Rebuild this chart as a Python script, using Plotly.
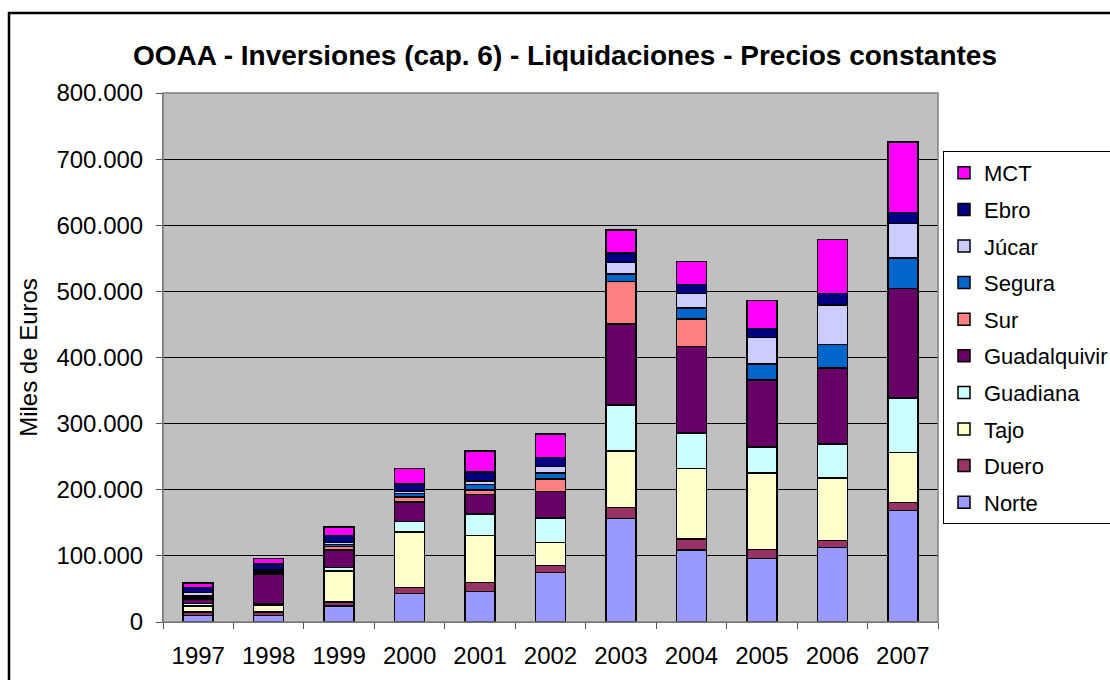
import plotly.graph_objects as go

# Miles de euros
years = ["1997", "1998", "1999", "2000", "2001", "2002", "2003", "2004", "2005", "2006", "2007"]

norte = [9500, 9500, 24000, 43000, 46000, 74500, 156500, 109000, 96000, 113000, 169000]
duero = [6000, 5500, 6000, 9000, 13500, 11000, 17000, 16500, 14000, 10000, 11500]
tajo = [8500, 10500, 47500, 84000, 71500, 35000, 85000, 107000, 115000, 94500, 76000]
guadiana = [4000, 2500, 5000, 16000, 32000, 36500, 69500, 53500, 40000, 52000, 82000]
guadalquivir = [6500, 44000, 26500, 29500, 29500, 40500, 123000, 131000, 101000, 115000, 166000]
sur = [2500, 2000, 5000, 7500, 7000, 18500, 64000, 41500, 0, 0, 0]
segura = [2500, 3000, 3000, 5500, 8500, 9000, 11000, 16500, 24000, 35000, 46000]
jucar = [5000, 2000, 3000, 2500, 5000, 10000, 18000, 22000, 40000, 60000, 52000]
ebro = [7500, 8500, 10500, 11500, 13500, 13500, 14000, 13500, 13500, 17000, 16500]
mct = [7000, 8500, 13500, 23500, 32000, 35500, 34500, 35000, 43000, 82000, 107000]

series = [
    ("Norte", norte, "#9999FF"),
    ("Duero", duero, "#993366"),
    ("Tajo", tajo, "#FFFFCC"),
    ("Guadiana", guadiana, "#CCFFFF"),
    ("Guadalquivir", guadalquivir, "#660066"),
    ("Sur", sur, "#FF8080"),
    ("Segura", segura, "#0066CC"),
    ("Júcar", jucar, "#CCCCFF"),
    ("Ebro", ebro, "#000080"),
    ("MCT", mct, "#FF00FF"),
]

y_ticks = [0, 100000, 200000, 300000, 400000, 500000, 600000, 700000, 800000]

FONT = "Arial, Liberation Sans, sans-serif"

fig = go.Figure()
for i, (name, values, color) in enumerate(series):
    fig.add_trace(go.Bar(
        x=years,
        y=values,
        name=name,
        legendgroup=name,
        legendrank=len(series) - i,  # top of the stack first in the legend
        marker=dict(color=color, line=dict(color="black", width=1.5)),
    ))

fig.update_layout(
    width=1110,
    height=680,
    barmode="stack",
    bargap=0.574,
    separators=",.",
    paper_bgcolor="white",
    plot_bgcolor="#C0C0C0",
    margin=dict(l=163, r=172, t=93, b=58, autoexpand=False),
    font=dict(family=FONT, size=24, color="black"),
    title=dict(
        text="<b>OOAA - Inversiones (cap. 6) - Liquidaciones - Precios constantes</b>",
        font=dict(family=FONT, size=28, color="black"),
        x=0.509, xanchor="center",
        y=0.919, yanchor="middle",
    ),
    legend=dict(
        xref="container", yref="container",
        x=943 / 1110, xanchor="left",
        y=1 - 151 / 680, yanchor="top",
        maxheight=450,
        traceorder="grouped",
        tracegroupgap=5,
        itemwidth=30,
        bgcolor="white",
        bordercolor="black",
        borderwidth=1,
        font=dict(family=FONT, size=22, color="black"),
    ),
    showlegend=True,
)

fig.update_xaxes(
    type="category",
    showgrid=False,
    showline=True,
    linecolor="#555555",
    linewidth=1,
    ticks="outside",
    tickson="boundaries",
    ticklen=6,
    tickcolor="#555555",
    ticklabelstandoff=12,
    tickfont=dict(size=24),
)

fig.update_yaxes(
    range=[0, 800000],
    tickvals=y_ticks,
    tickformat=",d",
    showgrid=True,
    gridcolor="black",
    gridwidth=1,
    zeroline=False,
    showline=True,
    linecolor="#555555",
    linewidth=1,
    ticks="outside",
    ticklen=6,
    tickcolor="#555555",
    ticklabelstandoff=8,
    tickfont=dict(size=24),
    title=dict(text="Miles de Euros", font=dict(size=24), standoff=12),
)

# plot area border and outer chart frame
fig.add_shape(type="rect", xref="x domain", yref="y domain", x0=0, y0=0, x1=1, y1=1,
              line=dict(color="#808080", width=1.5), layer="above")
fig.add_shape(type="rect", xref="paper", yref="paper", x0=-0.1987, y0=-0.2, x1=1.3, y1=1.1512,
              line=dict(color="black", width=2.5), layer="below")

# drop the default page margin so the chart sits at the window's top-left corner
fig.write_html("out.html", config={"displayModeBar": False},
               post_script="document.body.style.margin='0';")
